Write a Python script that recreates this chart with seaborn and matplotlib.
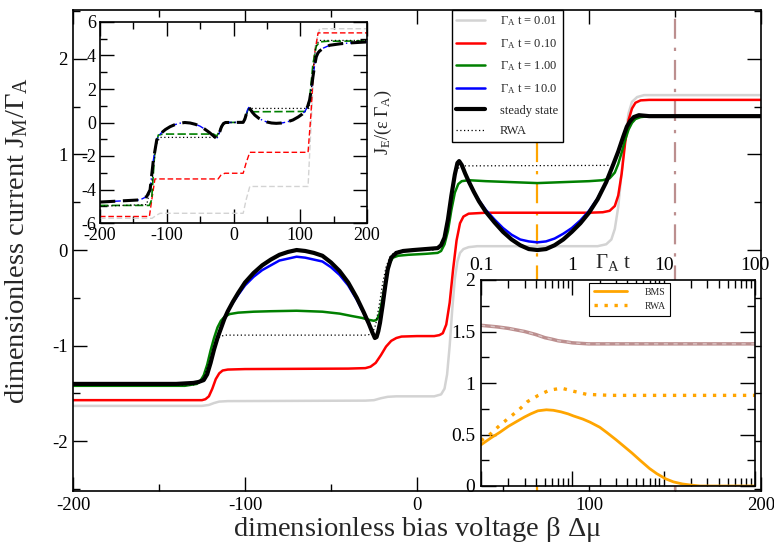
import matplotlib
matplotlib.use("Agg")
import matplotlib.pyplot as plt
import matplotlib.transforms as mtransforms
from matplotlib.ticker import MultipleLocator, NullFormatter
import seaborn as sns

#########################
# Data
#########################

# main panel: particle current vs bias, one x grid shared by steady state and t=10
x_black = [-200, -140, -130, -127, -124, -122, -120, -118, -116, -114, -112, -110, -107, -104, -100, -95,
           -90, -85, -80, -75, -70, -65, -60, -55, -50, -45, -40, -35, -31, -28, -26, -24.5, -23.5, -22.5,
           -21.5, -20, -18.5, -17, -15, -12, -8, -2, 5, 12, 14, 16, 18, 20, 22, 23.5, 24.5, 26, 28, 30, 33,
           36, 40, 45, 50, 55, 60, 65, 70, 75, 80, 85, 90, 95, 100, 105, 110, 114, 117, 120, 122, 124, 126,
           129, 135, 200]
y_black = [-1.40, -1.40, -1.39, -1.38, -1.36, -1.30, -1.18, -1.04, -0.92, -0.82, -0.72, -0.64, -0.54,
           -0.45, -0.34, -0.24, -0.16, -0.10, -0.05, -0.02, 0.00, -0.01, -0.03, -0.06, -0.13, -0.22, -0.34,
           -0.50, -0.65, -0.77, -0.86, -0.92, -0.91, -0.85, -0.76, -0.58, -0.38, -0.20, -0.08, -0.03, -0.01,
           0.00, 0.01, 0.02, 0.05, 0.13, 0.32, 0.57, 0.79, 0.91, 0.93, 0.89, 0.80, 0.72, 0.61, 0.51, 0.40,
           0.29, 0.19, 0.11, 0.05, 0.01, 0.00, 0.01, 0.05, 0.11, 0.19, 0.28, 0.39, 0.53, 0.71, 0.89, 1.03,
           1.19, 1.29, 1.35, 1.39, 1.41, 1.40, 1.40]
y_blue = [-1.40, -1.40, -1.39, -1.38, -1.36, -1.30, -1.18, -1.04, -0.92, -0.82, -0.72, -0.64, -0.55,
          -0.47, -0.37, -0.28, -0.21, -0.16, -0.11, -0.09, -0.07, -0.08, -0.10, -0.12, -0.18, -0.26, -0.37,
          -0.52, -0.66, -0.77, -0.86, -0.92, -0.91, -0.85, -0.76, -0.58, -0.38, -0.20, -0.08, -0.03, -0.01,
          0.00, 0.01, 0.02, 0.05, 0.13, 0.32, 0.57, 0.79, 0.91, 0.93, 0.89, 0.80, 0.72, 0.61, 0.52, 0.42,
          0.32, 0.23, 0.16, 0.11, 0.09, 0.08, 0.09, 0.12, 0.17, 0.23, 0.31, 0.41, 0.54, 0.71, 0.89, 1.03,
          1.19, 1.29, 1.35, 1.39, 1.41, 1.40, 1.40]

x_green = [-200, -135, -128, -126, -124, -122, -120, -118, -116, -114, -112, -109, -104, -95, -85, -70,
           -55, -45, -38, -32, -28, -25, -23.5, -22, -20.5, -19, -17.5, -16, -14, -11, -5, 5, 12, 14, 16,
           18, 20, 22, 24, 26, 30, 40, 55, 70, 85, 100, 108, 112, 115, 117, 119, 121, 123, 125, 127, 130,
           135, 200]
y_green = [-1.42, -1.42, -1.40, -1.37, -1.31, -1.20, -1.05, -0.92, -0.81, -0.74, -0.70, -0.67, -0.655,
           -0.645, -0.64, -0.635, -0.645, -0.665, -0.69, -0.71, -0.73, -0.74, -0.73, -0.68, -0.55, -0.40,
           -0.25, -0.14, -0.08, -0.06, -0.05, -0.04, -0.03, -0.01, 0.06, 0.20, 0.42, 0.60, 0.69, 0.72, 0.73,
           0.72, 0.71, 0.70, 0.71, 0.72, 0.73, 0.75, 0.81, 0.90, 1.02, 1.15, 1.26, 1.33, 1.37, 1.39, 1.40,
           1.40]

x_red = [-200, -125, -123, -121, -119, -117, -115, -113, -110, -100, -40, -30, -27, -24, -21, -18, -15,
         -12, -9, 0, 10, 13, 15, 17, 19, 21, 23, 25, 27, 30, 40, 100, 108, 112, 115, 117, 119, 121, 123,
         125, 127, 130, 135, 200]
y_red = [-1.57, -1.57, -1.56, -1.53, -1.45, -1.35, -1.29, -1.26, -1.25, -1.245, -1.24, -1.235, -1.22,
         -1.18, -1.10, -1.01, -0.95, -0.92, -0.905, -0.90, -0.90, -0.89, -0.87, -0.78, -0.55, -0.20, 0.10,
         0.28, 0.35, 0.38, 0.39, 0.39, 0.395, 0.41, 0.46, 0.57, 0.80, 1.12, 1.36, 1.48, 1.54, 1.565, 1.57,
         1.57]

x_gray = [-200, -125, -121, -118, -115, -110, -30, -25, -21, -17, -12, 10, 14, 16, 17.5, 19, 20.5, 22,
          23.5, 25, 27, 30, 35, 105, 110, 113, 115, 117, 119, 121, 123, 125, 128, 132, 200]
y_gray = [-1.63, -1.63, -1.62, -1.60, -1.585, -1.58, -1.575, -1.57, -1.55, -1.535, -1.53, -1.53, -1.51,
          -1.45, -1.30, -1.00, -0.62, -0.30, -0.12, -0.03, 0.01, 0.03, 0.04, 0.04, 0.06, 0.11, 0.22, 0.45,
          0.82, 1.18, 1.43, 1.55, 1.60, 1.62, 1.62]

x_rwa = [-200, -130, -127, -124, -121, -118, -116, -114, -111, -29, -27, -25.5, -24, -22, -20, -18, -16,
         -13, -8, 10, 13, 15, 17, 19, 21, 23, 25, 28, 113, 115, 117, 119, 121, 123, 125, 128, 200]
y_rwa = [-1.41, -1.41, -1.39, -1.33, -1.18, -1.00, -0.93, -0.90, -0.89, -0.89, -0.88, -0.85, -0.78,
         -0.58, -0.35, -0.18, -0.08, -0.02, 0.00, 0.00, 0.02, 0.08, 0.22, 0.45, 0.68, 0.83, 0.875, 0.88,
         0.885, 0.92, 1.00, 1.12, 1.24, 1.33, 1.38, 1.40, 1.40]

legend_labels = [r"$\Gamma_A$ t = 0.01", r"$\Gamma_A$ t = 0.10", r"$\Gamma_A$ t = 1.00",
                 r"$\Gamma_A$ t = 10.0", "steady state", "RWA"]

# biases marked by vertical lines
bias_marks = [70, 150]

# top-left inset: energy current
xe_black = [-200, -140, -130, -125, -120, -115, -112, -108, -102, -95, -88, -80, -73, -65, -57, -50, -43,
            -36, -30, -26, -24, -21, -18, -15, -12, 14.5, 17, 19.5, 21, 23, 25, 28, 32, 38, 44, 50, 57, 64,
            72, 80, 89, 97, 103, 107, 111, 114, 116.5, 119, 121.5, 124, 126.5, 129, 135, 144, 160, 174, 200]
ye_black = [-4.75, -4.62, -4.42, -4.02, -2.23, -1.04, -0.80, -0.62, -0.42, -0.25, -0.13, -0.04, 0.00,
            -0.03, -0.11, -0.22, -0.40, -0.60, -0.80, -0.93, -0.90, -0.60, -0.25, -0.06, 0.00, 0.01, 0.20,
            0.54, 0.75, 0.90, 0.80, 0.62, 0.44, 0.25, 0.12, 0.03, -0.03, -0.05, -0.03, 0.03, 0.15, 0.33,
            0.50, 0.66, 0.95, 1.34, 1.95, 2.73, 3.40, 3.92, 4.15, 4.27, 4.45, 4.61, 4.70, 4.75, 4.81]
ye_blue = [-4.75, -4.62, -4.42, -4.02, -2.23, -1.04, -0.80, -0.62, -0.42, -0.25, -0.13, -0.04, 0.00,
           -0.03, -0.11, -0.22, -0.40, -0.60, -0.80, -0.93, -0.90, -0.60, -0.25, -0.06, 0.00, 0.01, 0.20,
           0.54, 0.75, 0.90, 0.80, 0.62, 0.44, 0.25, 0.12, 0.03, -0.03, -0.05, -0.03, 0.03, 0.15, 0.33,
           0.50, 0.66, 0.95, 1.34, 1.95, 2.73, 3.40, 3.92, 4.15, 4.27, 4.45, 4.61, 4.70, 4.75, 4.81]

xe_green = [-200, -126, -122.7, -117.7, -112.7, -105, -30, -25, -19.4, -13, 14.5, 19.5, 23, 29.5, 109,
            114, 119, 124, 129, 140, 200]
ye_green = [-4.95, -4.95, -4.62, -1.64, -0.75, -0.69, -0.69, -0.81, -0.35, 0.00, 0.01, 0.54, 0.88, 0.64,
            0.66, 1.40, 3.50, 4.55, 4.81, 4.85, 4.87]

xe_red = [-200, -126, -122, -117.7, -23, -19, -13, 14.5, 19, 24.4, 111.7, 116, 121, 126.7, 200]
ye_red = [-5.61, -5.61, -4.50, -3.37, -3.37, -3.15, -3.03, -3.03, -2.40, -1.78, -1.78, 0.50, 4.00, 5.35,
          5.35]

xe_gray = [-200, -122, -116, -110, 14.5, 19, 24.4, 111.7, 117, 122, 129, 200]
ye_gray = [-5.72, -5.72, -5.55, -5.42, -5.42, -4.60, -3.82, -3.82, 0.50, 4.50, 5.60, 5.60]

xe_rwa = [-200, -130, -122, -116, -110, -25, -19, -13, 14.5, 19.5, 25, 113, 118, 123, 128, 200]
ye_rwa = [-5.00, -4.90, -3.50, -1.30, -0.89, -0.89, -0.40, 0.00, 0.00, 0.50, 0.84, 0.84, 2.50, 4.50,
          4.90, 4.90]

# bottom-right inset: current vs time at the two marked biases
t_bms = [0.1, 0.13, 0.16, 0.2, 0.25, 0.3, 0.35, 0.42, 0.52, 0.62, 0.75, 0.9, 1.03, 1.3, 1.56, 2.0, 2.38,
         3.0, 3.62, 4.5, 5.51, 7, 8.4, 10.5, 12.8, 16, 19.5, 25, 100]
j_bms = [0.40, 0.47, 0.52, 0.58, 0.63, 0.67, 0.70, 0.73, 0.74, 0.735, 0.72, 0.70, 0.68, 0.65, 0.62, 0.57,
         0.52, 0.45, 0.39, 0.32, 0.25, 0.17, 0.12, 0.07, 0.04, 0.02, 0.01, 0.0, 0.0]
t_rwa = [0.1, 0.125, 0.161, 0.208, 0.26, 0.324, 0.424, 0.56, 0.76, 1.03, 1.43, 2.6, 10, 100]
j_rwa = [0.44, 0.50, 0.59, 0.67, 0.74, 0.82, 0.88, 0.93, 0.95, 0.92, 0.89, 0.88, 0.88, 0.88]
t_brown = [0.1, 0.15, 0.2, 0.3, 0.4, 0.5, 0.6, 0.7, 0.85, 1.0, 1.5, 3, 10, 100]
j_brown = [1.56, 1.545, 1.53, 1.50, 1.47, 1.44, 1.425, 1.41, 1.40, 1.39, 1.38, 1.38, 1.38, 1.38]


#########################
# Plot
#########################

sns.set_style("ticks")
plt.rcParams['font.family'] = ['Liberation Serif', 'DejaVu Serif']
plt.rcParams['mathtext.fontset'] = 'stix'
plt.rcParams['mathtext.default'] = 'regular'
plt.rcParams['axes.unicode_minus'] = False

W, H = 774, 550
fig = plt.figure(figsize=(W / 100, H / 100), dpi=100)


def px_rect(x0, y0, x1, y1):
    # pixel box (top-left origin) -> figure fraction rect
    return [x0 / W, 1 - y1 / H, (x1 - x0) / W, (y1 - y0) / H]


def style_ticks(ax, size, pad=3.5):
    ax.tick_params(which='both', direction='in', top=True, right=True, width=1.0, colors='black')
    ax.tick_params(which='major', length=10, labelsize=size, pad=pad)
    ax.tick_params(which='minor', length=5)
    for s in ax.spines.values():
        s.set_linewidth(1.2)
        s.set_color('black')


def draw(ax, x, y, **kw):
    sns.lineplot(x=x, y=y, ax=ax, estimator=None, sort=False, **kw)


ORANGE = '#ffa500'
BROWN = '#bc8f8f'
GRAY = '#d3d3d3'
DASHDOT = (0, (9, 4, 1.5, 4))

# main axes
ax = fig.add_axes(px_rect(73, 10, 761, 491))
draw(ax, x_gray, y_gray, color=GRAY, lw=1.8, label=legend_labels[0])
draw(ax, x_red, y_red, color='red', lw=1.8, label=legend_labels[1])
draw(ax, x_green, y_green, color='green', lw=1.8, label=legend_labels[2])
draw(ax, x_black, y_blue, color='blue', lw=1.8, label=legend_labels[3])
draw(ax, x_black, y_black, color='black', lw=3.0, label=legend_labels[4])
draw(ax, x_rwa, y_rwa, color='black', lw=0.9, ls=(0, (1, 2)), label=legend_labels[5])
ax.axvline(bias_marks[0], color=ORANGE, lw=1.6, ls=DASHDOT, zorder=1)
ax.axvline(bias_marks[1], color=BROWN, lw=1.6, ls=DASHDOT, zorder=1)

ax.set_xlim(-200, 200)
ax.set_ylim(-2.52, 2.51)
ax.xaxis.set_major_locator(MultipleLocator(100))
ax.xaxis.set_minor_locator(MultipleLocator(50))
ax.yaxis.set_major_locator(MultipleLocator(1))
ax.yaxis.set_minor_locator(MultipleLocator(0.5))
style_ticks(ax, 13.5, pad=4)
ax.set_xlabel(r"dimensionless bias voltage $\beta\ \Delta\mu$", fontsize=20.5, labelpad=1)
ax.set_ylabel(r"dimensionless current J$_M$/$\Gamma_A$", fontsize=20.5)
ax.yaxis.set_label_coords(-0.062, 0.52)

leg = ax.legend(loc='upper left', bbox_to_anchor=(452 / W, 1 - 10 / H), bbox_transform=fig.transFigure,
                fontsize=9, frameon=True, fancybox=False, edgecolor='black', framealpha=1,
                labelspacing=0.7, handlelength=2.3, handletextpad=1.2, borderpad=0.35, borderaxespad=0)
leg.get_frame().set_linewidth(1.0)
leg.set_zorder(10)

# top-left inset
ax1 = fig.add_axes(px_rect(100, 22, 367, 223))
draw(ax1, xe_gray, ye_gray, color=GRAY, lw=1.0, ls=(0, (4, 2)))
draw(ax1, xe_red, ye_red, color='red', lw=1.0, ls=(0, (4, 2)))
draw(ax1, xe_green, ye_green, color='green', lw=1.2, ls=(0, (5, 2)))
draw(ax1, xe_black, ye_blue, color='blue', lw=1.0, ls=(0, (5, 2, 1, 2)))
draw(ax1, xe_black, ye_black, color='black', lw=2.2, ls=(0, (5, 2.5)))
draw(ax1, xe_rwa, ye_rwa, color='black', lw=0.9, ls=(0, (1, 2)))
ax1.set_xlim(-200, 200)
ax1.set_ylim(-6, 6)
ax1.xaxis.set_major_locator(MultipleLocator(100))
ax1.xaxis.set_minor_locator(MultipleLocator(50))
ax1.yaxis.set_major_locator(MultipleLocator(2))
ax1.yaxis.set_minor_locator(MultipleLocator(1))
style_ticks(ax1, 13, pad=3)
ax1.yaxis.set_label_position('right')
ax1.set_ylabel(r"J$_E$/($\epsilon\ \Gamma_A$)", fontsize=13, labelpad=4)

# bottom-right inset
ax2 = fig.add_axes(px_rect(481, 280, 755, 486))
draw(ax2, t_brown, j_brown, color=BROWN, lw=2.5)
draw(ax2, t_brown, j_brown, color='#d9c3c3', lw=1.0, ls=(0, (3, 4)))
draw(ax2, t_bms, j_bms, color=ORANGE, lw=2.0, label='BMS')
draw(ax2, t_rwa, j_rwa, color=ORANGE, lw=2.4, ls=(0, (1, 2)), label='RWA')
ax2.set_xscale('log')
ax2.set_xlim(0.1, 100)
ax2.set_ylim(0, 2)
ax2.set_xticks([0.1, 1, 10, 100])
ax2.set_xticklabels(['0.1', '1', '10', '100'])
ax2.xaxis.set_minor_formatter(NullFormatter())
ax2.yaxis.set_minor_locator(MultipleLocator(0.25))
ax2.set_yticks([0, 0.5, 1, 1.5, 2])
ax2.set_yticklabels(['0', '0.5', '1', '1.5', '2'])
style_ticks(ax2, 14, pad=4)
ax2.tick_params(which='both', labeltop=True, labelbottom=False)
ax2.tick_params(which='major', length=11)
ax2.tick_params(which='minor', length=6)
tr = mtransforms.blended_transform_factory(ax2.transData, ax2.transAxes)
ax2.text(2.8, 1.035, r"$\Gamma_A$ t", transform=tr, fontsize=15, ha='center', va='bottom')
leg2 = ax2.legend(loc='upper left', bbox_to_anchor=(589 / W, 1 - 283 / H), bbox_transform=fig.transFigure,
                  fontsize=7, frameon=True, fancybox=False, edgecolor='black', framealpha=1,
                  labelspacing=0.5, handlelength=3.4, handletextpad=1.8, borderpad=0.5, borderaxespad=0)
leg2.get_frame().set_linewidth(0.8)

fig.savefig('out.png', dpi=100)
